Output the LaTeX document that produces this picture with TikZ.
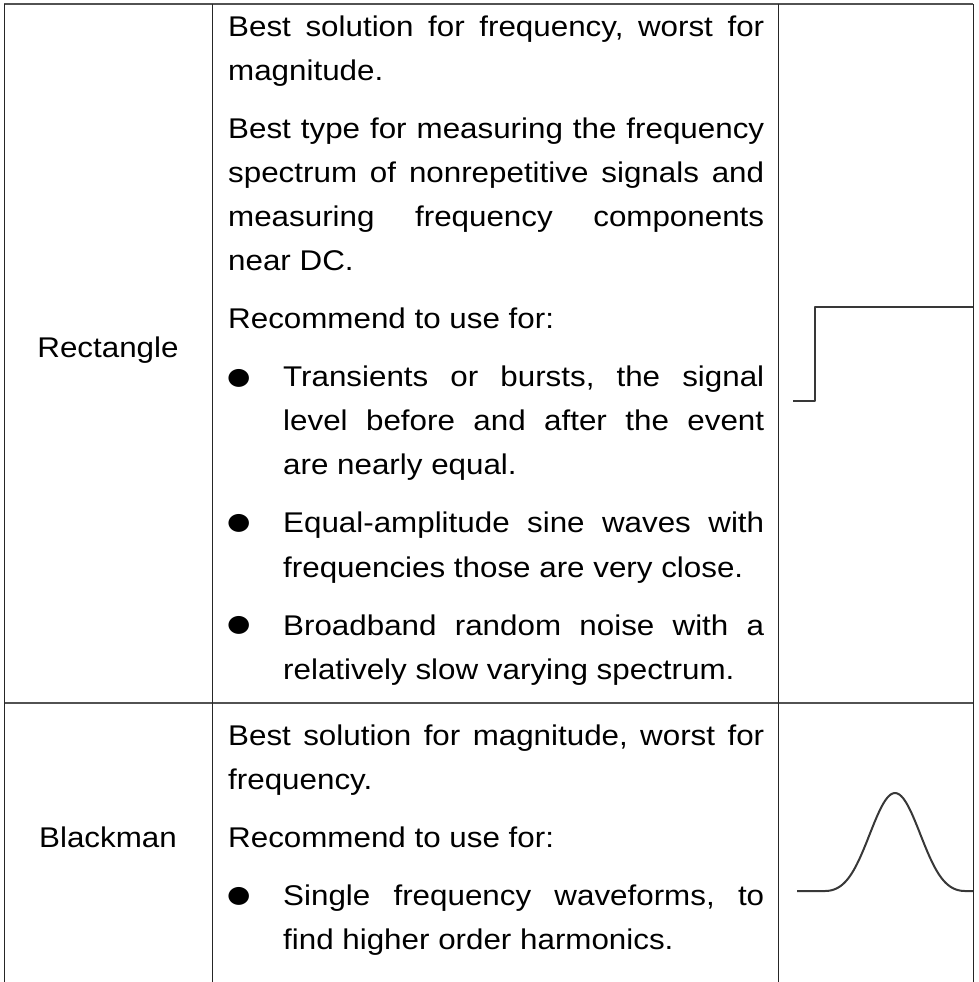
\documentclass[tikz,border=0pt]{standalone}
\usepackage{fontspec}
\setmainfont[FakeStretch=1.1]{Liberation Sans}
\newfontfamily\dotfont[FakeStretch=1.14]{DejaVu Sans}
\usetikzlibrary{positioning}

% bullet hung into the left indent
\newcommand{\bul}{\noindent\llap{\makebox[55pt][l]{\hspace{-1pt}\raisebox{3pt}{\dotfont\fontsize{23.5}{44}\selectfont ●}}}}
\newenvironment{bulpar}{\par\leftskip=55pt\relax}{\par}

\begin{document}
\begin{tikzpicture}[x=1pt,y=-1pt,
    cell/.style={inner sep=0pt, text width=536pt, align=justify,
      font=\fontsize{28.5}{44}\selectfont},
    winname/.style={inner sep=0pt, font=\fontsize{28.5}{44}\selectfont},
    hrule/.style={line width=1.6pt, black!68},
    vrule/.style={line width=1pt, black!85},
    wave/.style={line width=2pt, black!78, line join=round}]
  \useasboundingbox (0,0) rectangle (979,982);

  % table rules
  \draw[hrule] (4,4) -- (973,4);
  \draw[hrule] (4,703) -- (973,703);
  \draw[vrule] (4,4) -- (4,982);
  \draw[vrule] (212,4) -- (212,982);
  \draw[vrule] (778,4) -- (778,982);
  \draw[vrule] (973,4) -- (973,982);

  % window names
  \node(rectlabel) [winname, anchor=base] at (108,357) {Rectangle};
  \node(blacklabel) [winname, anchor=base] at (108,847) {Blackman};

  % descriptions
  \node(recttext) [cell, anchor=base west] at (228,37) {\parindent=0pt\parskip=14pt
    \frenchspacing\hyphenpenalty=10000\exhyphenpenalty=10000\tolerance=10000
    Best solution for frequency, worst for\linebreak magnitude.\par
    Best type for measuring the frequency\linebreak spectrum of nonrepetitive signals and\linebreak measuring frequency components\linebreak near DC.\par
    Recommend to use for:\par
    \begin{bulpar}\bul Transients or bursts, the signal\linebreak level before and after the event\linebreak are nearly equal.\end{bulpar}
    \begin{bulpar}\bul Equal-amplitude sine waves with\linebreak frequencies those are very close.\end{bulpar}
    \begin{bulpar}\bul Broadband random noise with a\linebreak relatively slow varying spectrum.\end{bulpar}};
  \node(blacktext) [cell, anchor=base west] at (228,745) {\parindent=0pt\parskip=14pt
    \frenchspacing\hyphenpenalty=10000\exhyphenpenalty=10000\tolerance=10000
    Best solution for magnitude, worst for\linebreak frequency.\par
    Recommend to use for:\par
    \begin{bulpar}\bul Single frequency waveforms, to\linebreak find higher order harmonics.\end{bulpar}};

  % window shapes
  \draw[wave] (793,401) -- (815,401) -- (815,307) -- (973,307);
  \draw[wave] (797,891) -- (825,891) -- plot[domain=0:1, samples=80]
    ({825+140*\x}, {891-98*(0.42-0.5*cos(360*\x)+0.08*cos(720*\x))}) -- (973,891);
\end{tikzpicture}
\end{document}
